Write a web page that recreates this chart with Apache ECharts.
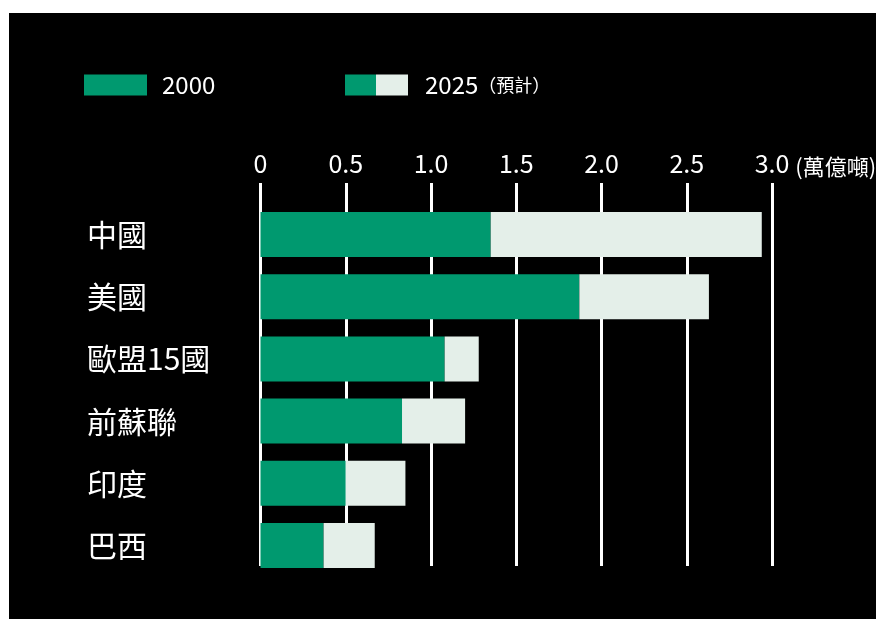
<!DOCTYPE html>
<html>
<head>
<meta charset="utf-8">
<script src="https://cdn.jsdelivr.net/npm/echarts@6/dist/echarts.min.js"></script>
<style>
  html, body { margin: 0; padding: 0; background: #fff; }
  #chart { position: absolute; left: 9px; top: 13px; width: 867px; height: 606px; background: #000; }
</style>
</head>
<body>
<div id="chart"></div>
<script>
// 排放量（萬億噸）：2000年 與 2025年預計
var countries = ['中國', '美國', '歐盟15國', '前蘇聯', '印度', '巴西'];
var value2000 = [1.35, 1.87, 1.08, 0.83, 0.50, 0.37];
var value2025 = [2.94, 2.63, 1.28, 1.20, 0.85, 0.67];
var tickLabels = ['0', '0.5', '1.0', '1.5', '2.0', '2.5', '3.0'];

var green = '#00996f';
var pale = '#e4efe9';
var font = '"Noto Sans CJK TC", "Noto Sans", sans-serif';

(function () {
    var myChart = echarts.init(document.getElementById('chart'));
    // 2025 的增量疊在 2000 上面
    var extra = value2025.map(function (v, i) { return +(v - value2000[i]).toFixed(2); });

    var option = {
        backgroundColor: 'transparent',
        animation: false,
        textStyle: { fontFamily: font },
        legend: [
            {
                data: ['2000'],
                left: 70,
                top: 55,
                itemWidth: 63,
                itemHeight: 21,
                icon: 'rect',
                textStyle: { color: '#fff', fontSize: 24, padding: [0, 0, 0, 10] }
            },
            {
                data: [{
                    name: '2025（預計）',
                    itemStyle: {
                        color: new echarts.graphic.LinearGradient(0, 0, 1, 0, [
                            { offset: 0, color: green },
                            { offset: 0.5, color: green },
                            { offset: 0.5, color: pale },
                            { offset: 1, color: pale }
                        ])
                    }
                }],
                left: 331,
                top: 55,
                itemWidth: 63,
                itemHeight: 21,
                icon: 'rect',
                formatter: function () { return '{a|2025}{b|（預計）}'; },
                textStyle: {
                    color: '#fff',
                    padding: [0, 0, 0, 12],
                    rich: {
                        a: { fontSize: 24, color: '#fff', fontFamily: font },
                        b: { fontSize: 18, color: '#fff', fontFamily: font }
                    }
                }
            }
        ],
        grid: [
            { left: 251.5, right: 104, top: 190.4, bottom: 42.4, outerBoundsMode: 'none' },
            { left: 251.5, right: 104, top: 170, bottom: 53, outerBoundsMode: 'none' }
        ],
        xAxis: [
            {
                type: 'value', gridIndex: 0, min: 0, max: 3, interval: 0.5,
                show: false
            },
            {
                type: 'value', gridIndex: 1, min: 0, max: 3, interval: 0.5,
                position: 'top',
                axisLine: { show: false, onZero: false },
                axisTick: { show: false },
                axisLabel: {
                    color: '#fff', fontSize: 25, margin: 7,
                    formatter: function (v) { return tickLabels[Math.round(v / 0.5)]; }
                },
                splitLine: { show: true, lineStyle: { color: '#fff', width: 3 } },
                name: '(萬億噸)',
                nameLocation: 'end',
                nameGap: 17,
                nameTextStyle: {
                    color: '#fff', fontSize: 22,
                    verticalAlign: 'bottom',
                    padding: [0, 0, 5, 0]
                }
            }
        ],
        yAxis: [
            {
                type: 'category', gridIndex: 0, inverse: true,
                data: countries,
                axisLine: { show: false },
                axisTick: { show: false },
                axisLabel: {
                    color: '#fff', fontSize: 30, align: 'left', margin: 173.5
                }
            },
            { type: 'value', gridIndex: 1, min: 0, max: 1, show: false }
        ],
        series: [
            {
                name: '2000', type: 'bar', stack: 'total',
                xAxisIndex: 0, yAxisIndex: 0,
                barWidth: 45, z: 5,
                itemStyle: { color: green },
                data: value2000
            },
            {
                name: '2025（預計）', type: 'bar', stack: 'total',
                xAxisIndex: 0, yAxisIndex: 0,
                barWidth: 45, z: 5,
                itemStyle: { color: pale },
                data: extra
            }
        ]
    };

    myChart.setOption(option);
    window.addEventListener('resize', function () {
        myChart.resize();
    });
})();
</script>
</body>
</html>
